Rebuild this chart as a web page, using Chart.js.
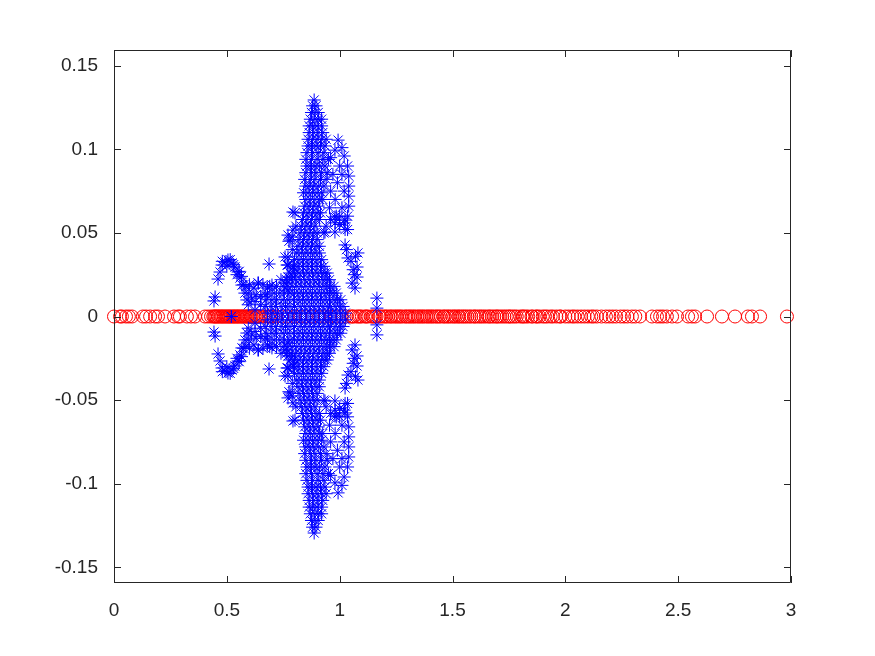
<!DOCTYPE html>
<html>
<head>
<meta charset="utf-8">
<title>Eigenvalues</title>
<script src="https://cdn.jsdelivr.net/npm/chart.js@4/dist/chart.umd.min.js"></script>
<style>
body{margin:0;background:#fff;}
canvas{display:block;}
</style>
</head>
<body>
<canvas id="chart" width="875" height="656"></canvas>
<script>
// =========================
// Data
// =========================
const xTicks = [0, 0.5, 1, 1.5, 2, 2.5, 3];
const yTicks = [-0.15, -0.1, -0.05, 0, 0.05, 0.1, 0.15];

// real eigenvalues, all on y = 0
const circleX = [
0,.027,.035,.053,.066,.08,.128,.142,.16,.182,.195,.226,.266,.284,.292,.323,.341,.359,.403,.417,.43,
.44,.445,.449,.454,.46,.464,.47,.476,.48,.486,.491,.497,.502,.508,.512,.518,.524,.53,.534,.54,.546,.55,.556,.562,.567,.572,.578,.584,.589,.594,.6,.606,.61,.616,.622,.628,.632,.638,.645,
.66,.672,.685,.693,.705,.72,.745,.77,.8,.825,.85,.88,.91,.935,.96,.985,1.01,1.03,
1.05,1.056,1.062,1.075,1.083,1.09,1.098,1.112,1.118,1.125,1.14,1.146,1.153,1.16,1.175,1.18,1.19,1.2,1.206,1.215,1.225,1.23,1.24,1.248,1.255,1.263,1.27,1.278,1.29,1.296,
1.305,1.312,1.32,1.328,1.335,1.345,1.352,1.36,1.368,1.375,1.385,1.392,1.4,1.408,1.415,1.425,1.432,1.44,1.448,1.46,1.465,1.475,1.482,1.49,1.5,1.508,1.515,1.525,1.53,1.54,
1.548,1.556,1.565,1.575,1.583,1.595,1.6,1.61,1.62,1.628,1.638,1.648,1.66,1.665,1.675,1.685,1.695,1.7,1.71,1.72,1.73,1.74,1.75,1.755,1.765,1.775,1.785,1.8,1.81,1.815,
1.825,1.835,1.85,1.855,1.87,1.875,1.885,1.9,1.91,1.92,1.935,1.945,1.96,1.975,1.98,2,2.015,2.03,2.04,2.055,2.07,2.085,2.1,2.115,2.125,2.14,2.16,2.18,2.195,2.21,2.225,2.245,2.26,2.275,2.295,2.31,
2.331,2.384,2.406,2.42,2.433,2.45,2.473,2.495,2.544,2.561,2.575,2.628,2.694,2.752,2.809,2.827,2.863,2.982
];

// complex eigenvalues, upper half plane, rows of the dense body first
const starX = [
.68,.70,.725,.745,.77,.79,.81,.83,.85,.87,.89,.91,.93,.95,.965,.985,1.005,1.025,
.67,.695,.715,.74,.76,.78,.80,.825,.845,.865,.885,.905,.925,.945,.96,.98,1.0,1.015,
.675,.70,.72,.75,.77,.795,.815,.835,.855,.875,.895,.915,.935,.955,.975,.99,1.005,
.68,.71,.735,.755,.78,.80,.82,.84,.86,.88,.90,.92,.94,.955,.97,.985,
.69,.72,.75,.77,.79,.81,.83,.85,.87,.89,.91,.93,.945,.96,.975,
.74,.765,.785,.805,.825,.845,.865,.885,.905,.925,.94,.955,
.78,.80,.82,.84,.86,.88,.90,.92,.935,.945,
.795,.815,.835,.855,.875,.895,.915,.93,
.80,.82,.84,.86,.88,.90,.92,
.81,.83,.85,.87,.89,.91,
.815,.835,.855,.875,.895,.91,
.82,.84,.86,.88,.90,
.825,.845,.865,.885,.90,
.83,.85,.87,.89,
.835,.855,.875,.895,.91,
.84,.86,.88,.90,.915,
.845,.865,.885,.905,
.85,.87,.89,.91,.925,
.84,.86,.88,.90,.92,
.85,.865,.885,.905,.93,
.845,.87,.89,.915,.94,
.85,.875,.895,.92,.945,
.855,.87,.89,.91,.935,
.85,.875,.90,.925,.95,
.855,.88,.905,.93,
.86,.875,.895,.915,.935,
.86,.88,.90,.92,.94,
.865,.885,.905,.925,
.865,.88,.90,.92,
.87,.89,.905,.92,
.875,.89,.905,
.88,.895,
.887,
// right lobe
.993,1.01,.979,1.02,1.035,1.04,1.04,1.04,1.04,1.035,1.0,.99,.98,1.01,1.02,1.01,.985,1.0,.96,.97,.96,.955,
.96,.98,1.0,1.02,1.035,.94,.93,
1.024,1.037,1.081,1.077,1.077,1.068,1.165,1.165,1.024,1.024,.979,.935,.979,1.05,1.06,1.07,1.055,1.065,1.03,
// left of the spine
.793,.793,.771,.802,.789,.771,.771,.771,.771,.793,.793,.758,.70,.638,.687,.806,.758,.767,.78,.775,.79,
// left wing
.448,.443,.461,.47,.479,.492,.505,.523,.536,.55,.558,.567,.58,.589,
.48,.50,.515,.53,.545,.555,.565,.575,.585,.595,.60,.61,.62,.63,.64,.65,.66,.67,.68,.65,.625,.595,.625,
.52
];

const starY = [
.002,.002,.002,.002,.002,.002,.002,.002,.002,.002,.002,.002,.002,.002,.002,.002,.002,.002,
.006,.006,.006,.006,.006,.006,.006,.006,.006,.006,.006,.006,.006,.006,.006,.006,.006,.006,
.010,.010,.010,.010,.010,.010,.010,.010,.010,.010,.010,.010,.010,.010,.010,.010,.010,
.014,.014,.014,.014,.014,.014,.014,.014,.014,.014,.014,.014,.014,.014,.014,.014,
.018,.018,.018,.018,.018,.018,.018,.018,.018,.018,.018,.018,.018,.018,.018,
.022,.022,.022,.022,.022,.022,.022,.022,.022,.022,.022,.022,
.026,.026,.026,.026,.026,.026,.026,.026,.026,.026,
.030,.030,.030,.030,.030,.030,.030,.030,
.034,.034,.034,.034,.034,.034,.034,
.038,.038,.038,.038,.038,.038,
.042,.042,.042,.042,.042,.042,
.046,.046,.046,.046,.046,
.050,.050,.050,.050,.050,
.054,.054,.054,.054,
.058,.058,.058,.058,.058,
.062,.062,.062,.062,.062,
.066,.066,.066,.066,
.070,.070,.070,.070,.070,
.074,.074,.074,.074,.074,
.078,.078,.078,.078,.078,
.082,.082,.082,.082,.082,
.086,.086,.086,.086,.086,
.090,.090,.090,.090,.090,
.094,.094,.094,.094,.094,
.098,.098,.098,.098,
.102,.102,.102,.102,.102,
.106,.106,.106,.106,.106,
.110,.110,.110,.110,
.114,.114,.114,.114,
.118,.118,.118,.118,
.122,.122,.122,
.126,.126,
.1295,
// right lobe
.1055,.101,.0995,.096,.09,.084,.078,.072,.066,.06,.09,.08,.07,.085,.075,.065,.06,.06,.095,.085,.075,.065,
.058,.056,.055,.056,.052,.054,.05,
.0428,.035,.038,.0296,.0236,.017,.011,.005,.0577,.052,.0595,.0505,.0505,.033,.028,.036,.02,.025,.04,
// left of the spine
.0625,.0517,.0487,.062,.0475,.0356,.0308,.0236,.0158,.029,.0236,.02,.0188,.02,.0314,.054,.0356,.0308,.0457,.045,.04,
// left wing
.0117,.0093,.0224,.0266,.0308,.0326,.0338,.032,.0296,.0266,.023,.0188,.014,.0099,
.033,.03,.034,.031,.025,.027,.024,.019,.018,.014,.019,.011,.017,.013,.02,.012,.019,.013,.017,.007,.009,.007,.004,
0
];

// =========================
// Axes box and inward ticks, on top of the marks
// =========================
const boxPlugin = {
    id: "box",
    afterDatasetsDraw(chart){
        const ctx = chart.ctx;
        const a = chart.chartArea;
        const tick = 7;
        ctx.save();
        ctx.strokeStyle = "#262626";
        ctx.lineWidth = 1;
        ctx.beginPath();
        ctx.rect(a.left + 0.5, a.top + 0.5, a.right - a.left - 1, a.bottom - a.top - 1);
        xTicks.forEach(v => {
            const px = Math.round(chart.scales.x.getPixelForValue(v)) + 0.5;
            ctx.moveTo(px, a.bottom);
            ctx.lineTo(px, a.bottom - tick);
            ctx.moveTo(px, a.top);
            ctx.lineTo(px, a.top + tick);
        });
        yTicks.forEach(v => {
            const py = Math.round(chart.scales.y.getPixelForValue(v)) + 0.5;
            ctx.moveTo(a.left, py);
            ctx.lineTo(a.left + tick, py);
            ctx.moveTo(a.right, py);
            ctx.lineTo(a.right - tick, py);
        });
        ctx.stroke();
        ctx.restore();
    }
};

const circles = circleX.map(x => ({x: x, y: 0}));
// eigenvalues come in conjugate pairs, so each star also has its mirror below the axis
const stars = starX.map((x, i) => ({x: x, y: starY[i]}))
    .concat(starX.map((x, i) => ({x: x, y: -starY[i]})));

const tickFont = {family: "'Liberation Sans', Arial, sans-serif", size: 19};

new Chart(document.getElementById("chart"), {
    type: "scatter",
    data: {
        datasets: [
            {
                data: stars,
                order: 0,
                clip: false,
                pointStyle: "star",
                pointRadius: 6.5,
                pointBorderWidth: 1,
                pointBorderColor: "#0000ff",
                pointBackgroundColor: "transparent"
            },
            {
                data: circles,
                order: 1,
                clip: false,
                pointStyle: "circle",
                pointRadius: 6.5,
                pointBorderWidth: 1,
                pointBorderColor: "#ff0000",
                pointBackgroundColor: "transparent"
            }
        ]
    },
    options: {
        responsive: false,
        animation: false,
        events: [],
        layout: {padding: {top: 50, right: 84, left: 0, bottom: 0}},
        plugins: {legend: {display: false}, tooltip: {enabled: false}},
        scales: {
            x: {
                type: "linear",
                min: 0,
                max: 3,
                grid: {display: false},
                border: {display: false},
                afterFit(scale){ scale.height = 73; },
                afterBuildTicks(scale){ scale.ticks = xTicks.map(v => ({value: v})); },
                ticks: {
                    color: "#262626",
                    font: tickFont,
                    padding: 8,
                    maxRotation: 0,
                    autoSkip: false,
                    callback: v => String(v)
                }
            },
            y: {
                type: "linear",
                min: -0.1594,
                max: 0.1594,
                grid: {display: false},
                border: {display: false},
                afterFit(scale){ scale.width = 114; },
                afterBuildTicks(scale){ scale.ticks = yTicks.map(v => ({value: v})); },
                ticks: {
                    color: "#262626",
                    font: tickFont,
                    padding: 8,
                    autoSkip: false,
                    callback: v => String(v)
                }
            }
        }
    },
    plugins: [boxPlugin]
});
</script>
</body>
</html>
